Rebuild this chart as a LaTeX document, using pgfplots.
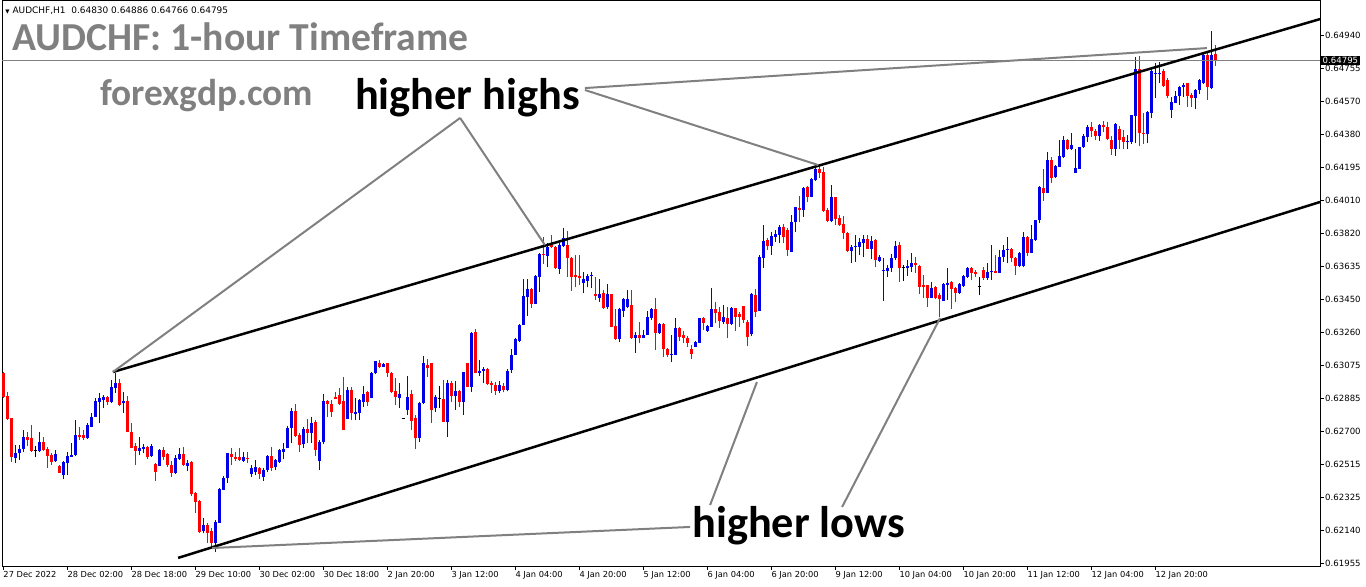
\documentclass[border=0pt]{standalone}
\usepackage{fontspec}
\setmainfont{DejaVu Sans}
\newfontfamily\calfont{Carlito}
\usepackage{pgfplots}
\usepackage{pgfplotstable}
\pgfplotsset{compat=1.18}
\definecolor{upc}{RGB}{0,0,230}
\definecolor{dnc}{RGB}{255,0,0}
\definecolor{annot}{RGB}{128,128,128}

% hourly AUDCHF candles, x = bar number (bar 0 = 27 Dec 2022 10:00)
\pgfplotstableread{
i o h l c
3 0.62551 0.62623 0.62523 0.62575
4 0.62575 0.62623 0.62538 0.62600
5 0.62598 0.62707 0.62585 0.62666
9 0.62590 0.62694 0.62585 0.62640
13 0.62534 0.62594 0.62528 0.62572
15 0.62453 0.62532 0.62428 0.62526
16 0.62523 0.62585 0.62453 0.62560
17 0.62557 0.62636 0.62557 0.62568
18 0.62566 0.62764 0.62560 0.62679
21 0.62660 0.62745 0.62655 0.62736
22 0.62726 0.62801 0.62722 0.62779
23 0.62783 0.62886 0.62779 0.62871
24 0.62867 0.62918 0.62745 0.62890
25 0.62877 0.62905 0.62830 0.62894
27 0.62866 0.62990 0.62862 0.62952
28 0.62947 0.63028 0.62918 0.62975
30 0.62858 0.62924 0.62805 0.62871
34 0.62590 0.62666 0.62566 0.62607
35 0.62602 0.62628 0.62575 0.62613
37 0.62560 0.62628 0.62557 0.62617
39 0.62504 0.62598 0.62504 0.62594
43 0.62466 0.62566 0.62459 0.62547
44 0.62543 0.62604 0.62538 0.62572
46 0.62504 0.62538 0.62477 0.62523
50 0.62136 0.62208 0.62123 0.62170
53 0.62071 0.62199 0.62016 0.62189
54 0.62184 0.62378 0.62184 0.62372
55 0.62368 0.62447 0.62368 0.62438
56 0.62438 0.62579 0.62410 0.62575
60 0.62534 0.62585 0.62525 0.62553
62 0.62460 0.62510 0.62440 0.62495
63 0.62470 0.62537 0.62450 0.62500
65 0.62440 0.62490 0.62420 0.62480
66 0.62480 0.62565 0.62470 0.62560
68 0.62496 0.62545 0.62480 0.62537
69 0.62528 0.62598 0.62522 0.62594
70 0.62585 0.62632 0.62541 0.62601
71 0.62603 0.62730 0.62603 0.62720
72 0.62717 0.62830 0.62635 0.62816
75 0.62626 0.62726 0.62607 0.62713
77 0.62692 0.62779 0.62636 0.62749
79 0.62530 0.62650 0.62480 0.62640
80 0.62640 0.62911 0.62630 0.62871
86 0.62769 0.62952 0.62769 0.62935
88 0.62799 0.62886 0.62764 0.62811
89 0.62805 0.62882 0.62764 0.62877
90 0.62867 0.62958 0.62839 0.62911
92 0.62890 0.63037 0.62886 0.63031
93 0.63027 0.63097 0.63022 0.63097
95 0.63065 0.63088 0.63061 0.63080
99 0.62890 0.62975 0.62833 0.62911
101 0.62820 0.63012 0.62792 0.62896
104 0.62660 0.62867 0.62641 0.62862
105 0.62858 0.63125 0.62854 0.63084
108 0.62830 0.62905 0.62811 0.62892
111 0.62754 0.62990 0.62669 0.62975
113 0.62901 0.62984 0.62820 0.62928
115 0.62867 0.63037 0.62792 0.63037
117 0.62952 0.63263 0.62924 0.63257
119 0.63031 0.63103 0.63012 0.63040
120 0.63042 0.63065 0.62971 0.63052
124 0.62930 0.62985 0.62915 0.62960
126 0.62935 0.63050 0.62925 0.63040
127 0.63047 0.63164 0.63030 0.63132
128 0.63132 0.63226 0.63132 0.63222
129 0.63212 0.63307 0.63207 0.63301
130 0.63301 0.63561 0.63301 0.63465
131 0.63461 0.63559 0.63352 0.63504
133 0.63420 0.63584 0.63420 0.63578
134 0.63574 0.63706 0.63489 0.63702
136 0.63693 0.63763 0.63627 0.63744
139 0.63618 0.63766 0.63589 0.63753
140 0.63748 0.63847 0.63744 0.63791
145 0.63537 0.63602 0.63480 0.63561
146 0.63552 0.63589 0.63514 0.63580
147 0.63580 0.63602 0.63508 0.63584
149 0.63452 0.63561 0.63433 0.63476
151 0.63401 0.63533 0.63390 0.63476
154 0.63220 0.63395 0.63207 0.63390
155 0.63382 0.63452 0.63348 0.63446
156 0.63405 0.63499 0.63395 0.63446
158 0.63229 0.63263 0.63141 0.63244
160 0.63226 0.63273 0.63226 0.63244
161 0.63244 0.63382 0.63244 0.63344
162 0.63339 0.63395 0.63329 0.63390
164 0.63254 0.63310 0.63250 0.63307
167 0.63135 0.63244 0.63090 0.63137
168 0.63131 0.63339 0.63131 0.63282
173 0.63178 0.63212 0.63175 0.63203
174 0.63201 0.63343 0.63197 0.63343
176 0.63269 0.63301 0.63263 0.63295
177 0.63292 0.63508 0.63288 0.63390
180 0.63320 0.63414 0.63307 0.63344
182 0.63307 0.63405 0.63301 0.63395
187 0.63250 0.63480 0.63240 0.63476
189 0.63382 0.63697 0.63382 0.63687
190 0.63682 0.63866 0.63621 0.63777
192 0.63747 0.63828 0.63697 0.63804
193 0.63800 0.63838 0.63772 0.63815
194 0.63810 0.63866 0.63763 0.63853
197 0.63715 0.63923 0.63715 0.63885
198 0.63885 0.63970 0.63828 0.63966
200 0.63951 0.64083 0.63913 0.64077
202 0.64026 0.64130 0.64022 0.64126
203 0.64120 0.64186 0.64117 0.64181
207 0.63889 0.64092 0.63881 0.64026
212 0.63721 0.63753 0.63653 0.63744
213 0.63743 0.63810 0.63659 0.63750
214 0.63744 0.63791 0.63697 0.63772
215 0.63766 0.63810 0.63684 0.63787
217 0.63729 0.63804 0.63672 0.63777
219 0.63665 0.63697 0.63659 0.63687
220 0.63608 0.63678 0.63438 0.63612
221 0.63608 0.63640 0.63574 0.63625
222 0.63625 0.63700 0.63602 0.63681
223 0.63678 0.63777 0.63668 0.63747
226 0.63621 0.63668 0.63578 0.63634
227 0.63631 0.63706 0.63602 0.63650
232 0.63456 0.63546 0.63452 0.63512
235 0.63438 0.63540 0.63438 0.63533
236 0.63527 0.63621 0.63442 0.63540
239 0.63484 0.63536 0.63476 0.63531
240 0.63521 0.63584 0.63518 0.63578
241 0.63574 0.63631 0.63565 0.63625
246 0.63568 0.63649 0.63555 0.63602
247 0.63598 0.63753 0.63555 0.63606
249 0.63597 0.63725 0.63593 0.63687
250 0.63687 0.63753 0.63659 0.63725
251 0.63725 0.63796 0.63649 0.63732
254 0.63634 0.63715 0.63627 0.63710
255 0.63634 0.63828 0.63630 0.63800
257 0.63710 0.63866 0.63706 0.63785
258 0.63781 0.63894 0.63777 0.63894
259 0.63894 0.64086 0.63875 0.64083
261 0.64049 0.64280 0.64045 0.64233
263 0.64135 0.64205 0.64130 0.64199
264 0.64196 0.64346 0.64192 0.64256
265 0.64248 0.64369 0.64243 0.64346
267 0.64294 0.64384 0.64290 0.64318
268 0.64162 0.64294 0.64162 0.64186
269 0.64184 0.64309 0.64184 0.64305
270 0.64305 0.64380 0.64299 0.64369
271 0.64365 0.64431 0.64337 0.64418
274 0.64369 0.64437 0.64342 0.64431
278 0.64295 0.64444 0.64256 0.64437
281 0.64337 0.64375 0.64294 0.64342
282 0.64337 0.64488 0.64324 0.64488
283 0.64484 0.64814 0.64327 0.64746
286 0.64380 0.64512 0.64327 0.64506
287 0.64501 0.64751 0.64469 0.64736
288 0.64719 0.64780 0.64582 0.64727
289 0.64719 0.64789 0.64667 0.64727
292 0.64516 0.64591 0.64469 0.64563
293 0.64557 0.64625 0.64554 0.64595
294 0.64595 0.64652 0.64544 0.64644
295 0.64644 0.64670 0.64591 0.64657
298 0.64582 0.64633 0.64520 0.64629
299 0.64629 0.64689 0.64606 0.64685
300 0.64667 0.64837 0.64663 0.64827
302 0.64639 0.64963 0.64633 0.64827
}\upbars

\pgfplotstableread{
i o h l c
0 0.63028 0.63035 0.62890 0.62896
1 0.62900 0.62924 0.62764 0.62768
2 0.62773 0.62773 0.62528 0.62553
6 0.62670 0.62698 0.62617 0.62651
7 0.62660 0.62736 0.62585 0.62590
10 0.62640 0.62670 0.62589 0.62594
11 0.62598 0.62613 0.62491 0.62560
12 0.62566 0.62575 0.62510 0.62528
14 0.62504 0.62510 0.62462 0.62466
19 0.62677 0.62722 0.62651 0.62670
20 0.62677 0.62707 0.62651 0.62660
26 0.62894 0.62900 0.62849 0.62866
29 0.62975 0.62994 0.62843 0.62849
31 0.62871 0.62900 0.62694 0.62698
32 0.62698 0.62745 0.62604 0.62607
33 0.62617 0.62632 0.62510 0.62589
36 0.62613 0.62617 0.62543 0.62553
38 0.62515 0.62519 0.62421 0.62472
40 0.62594 0.62613 0.62538 0.62557
41 0.62570 0.62575 0.62500 0.62510
42 0.62510 0.62532 0.62444 0.62466
45 0.62572 0.62609 0.62504 0.62510
47 0.62528 0.62534 0.62334 0.62346
48 0.62349 0.62359 0.62236 0.62302
49 0.62308 0.62312 0.62127 0.62133
51 0.62168 0.62180 0.62071 0.62127
52 0.62136 0.62152 0.62048 0.62071
57 0.62572 0.62604 0.62510 0.62553
58 0.62557 0.62585 0.62534 0.62545
59 0.62553 0.62604 0.62534 0.62538
61 0.62549 0.62585 0.62523 0.62545
64 0.62495 0.62500 0.62430 0.62460
67 0.62560 0.62610 0.62475 0.62490
73 0.62814 0.62854 0.62669 0.62673
74 0.62679 0.62688 0.62581 0.62622
76 0.62713 0.62767 0.62636 0.62692
78 0.62750 0.62764 0.62562 0.62594
81 0.62871 0.62877 0.62782 0.62852
82 0.62854 0.62877 0.62782 0.62811
83 0.62894 0.62924 0.62882 0.62882
84 0.62905 0.62943 0.62848 0.62854
85 0.62871 0.63008 0.62707 0.62707
87 0.62935 0.62948 0.62764 0.62805
91 0.62924 0.62929 0.62845 0.62867
94 0.63088 0.63103 0.63059 0.63065
96 0.63084 0.63088 0.63008 0.63027
97 0.63027 0.63037 0.62918 0.62924
98 0.62928 0.62999 0.62848 0.62896
102 0.62911 0.62933 0.62707 0.62760
103 0.62775 0.62792 0.62598 0.62660
106 0.63074 0.63106 0.63008 0.63059
107 0.63084 0.63088 0.62748 0.62820
110 0.62882 0.62990 0.62754 0.62754
112 0.62975 0.62984 0.62867 0.62901
114 0.62929 0.62933 0.62839 0.62867
116 0.63084 0.63088 0.62948 0.62952
118 0.63259 0.63276 0.63027 0.63031
121 0.63050 0.63056 0.62961 0.62967
122 0.62975 0.62986 0.62918 0.62963
123 0.62963 0.62980 0.62905 0.62930
125 0.62955 0.62975 0.62920 0.62935
132 0.63504 0.63512 0.63395 0.63418
135 0.63702 0.63800 0.63646 0.63697
137 0.63753 0.63808 0.63734 0.63740
138 0.63744 0.63748 0.63618 0.63621
141 0.63753 0.63832 0.63574 0.63678
142 0.63678 0.63687 0.63495 0.63574
143 0.63584 0.63697 0.63514 0.63574
144 0.63578 0.63697 0.63527 0.63565
148 0.63476 0.63574 0.63442 0.63467
150 0.63480 0.63499 0.63391 0.63399
152 0.63476 0.63476 0.63288 0.63292
153 0.63295 0.63390 0.63216 0.63220
157 0.63414 0.63499 0.63222 0.63226
159 0.63244 0.63320 0.63197 0.63229
163 0.63390 0.63456 0.63160 0.63258
165 0.63307 0.63310 0.63122 0.63163
166 0.63163 0.63169 0.63122 0.63131
169 0.63282 0.63292 0.63212 0.63235
170 0.63245 0.63269 0.63197 0.63226
171 0.63229 0.63239 0.63175 0.63197
172 0.63163 0.63188 0.63107 0.63137
175 0.63343 0.63348 0.63273 0.63314
178 0.63390 0.63433 0.63310 0.63371
179 0.63376 0.63405 0.63282 0.63326
181 0.63339 0.63405 0.63226 0.63305
183 0.63395 0.63399 0.63269 0.63348
184 0.63363 0.63376 0.63288 0.63348
185 0.63408 0.63410 0.63310 0.63329
186 0.63320 0.63330 0.63180 0.63230
188 0.63471 0.63503 0.63348 0.63376
191 0.63781 0.63791 0.63725 0.63747
195 0.63853 0.63872 0.63766 0.63796
196 0.63838 0.63847 0.63691 0.63725
199 0.63960 0.64030 0.63885 0.63951
201 0.64083 0.64087 0.63994 0.64026
204 0.64181 0.64205 0.64130 0.64162
205 0.64168 0.64196 0.63941 0.63945
206 0.63951 0.63960 0.63881 0.63889
208 0.64026 0.64026 0.63866 0.63898
209 0.63904 0.63923 0.63860 0.63866
210 0.63872 0.63917 0.63785 0.63823
211 0.63823 0.63828 0.63715 0.63721
216 0.63787 0.63810 0.63729 0.63731
218 0.63781 0.63785 0.63627 0.63668
224 0.63753 0.63772 0.63546 0.63621
228 0.63653 0.63684 0.63597 0.63640
229 0.63634 0.63640 0.63476 0.63518
230 0.63527 0.63584 0.63452 0.63518
231 0.63527 0.63527 0.63405 0.63452
233 0.63518 0.63521 0.63446 0.63452
234 0.63470 0.63480 0.63348 0.63446
237 0.63546 0.63550 0.63390 0.63503
238 0.63508 0.63518 0.63433 0.63484
242 0.63625 0.63627 0.63555 0.63597
243 0.63602 0.63612 0.63574 0.63589
245 0.63612 0.63631 0.63555 0.63565
248 0.63608 0.63696 0.63593 0.63597
252 0.63728 0.63734 0.63659 0.63678
253 0.63678 0.63683 0.63583 0.63634
256 0.63800 0.63804 0.63691 0.63710
260 0.64073 0.64181 0.64002 0.64045
262 0.64233 0.64248 0.64105 0.64130
266 0.64346 0.64350 0.64290 0.64294
272 0.64418 0.64450 0.64365 0.64399
273 0.64399 0.64407 0.64346 0.64369
275 0.64431 0.64456 0.64393 0.64418
276 0.64418 0.64450 0.64346 0.64350
277 0.64346 0.64369 0.64262 0.64295
279 0.64407 0.64425 0.64294 0.64346
280 0.64361 0.64403 0.64294 0.64337
284 0.64746 0.64822 0.64312 0.64384
285 0.64388 0.64501 0.64324 0.64380
290 0.64736 0.64746 0.64648 0.64652
291 0.64685 0.64695 0.64582 0.64595
296 0.64667 0.64667 0.64535 0.64595
297 0.64601 0.64610 0.64535 0.64582
301 0.64827 0.64837 0.64573 0.64648
303 0.64830 0.64886 0.64766 0.64795
}\downbars

\pgfplotstableread{
i o h l c
8 0.62594 0.62617 0.62553 0.62594
100 0.62773 0.62777 0.62769 0.62773
109 0.62886 0.62956 0.62833 0.62886
225 0.63627 0.63640 0.63551 0.63627
244 0.63521 0.63574 0.63471 0.63521
}\dojibars

\begin{document}
\begin{tikzpicture}
\useasboundingbox (0,0) rectangle (1366bp,587bp);
\begin{axis}[
  at={(2bp,21bp)}, anchor=south west,
  scale only axis, width=1318bp, height=565bp,
  xmin=-0.325, xmax=329.175,
  ymin=0.619383, ymax=0.651322,
  clip=false,
  axis line style={line width=1bp},
  tick align=outside, major tick length=4bp,
  tick style={black, line width=0.8bp},
  xtick pos=bottom, ytick pos=right, yticklabel pos=right,
  xtick={0,16,...,288},
  xticklabels={27 Dec 2022,28 Dec 02:00,28 Dec 18:00,29 Dec 10:00,30 Dec 02:00,30 Dec 18:00,2 Jan 20:00,3 Jan 12:00,4 Jan 04:00,4 Jan 20:00,5 Jan 12:00,6 Jan 04:00,6 Jan 20:00,9 Jan 12:00,10 Jan 04:00,10 Jan 20:00,11 Jan 12:00,12 Jan 04:00,12 Jan 20:00},
  ytick={0.64940,0.647534,0.645669,0.643803,0.641938,0.640072,0.638206,0.636341,0.634475,0.632610,0.630744,0.628878,0.627013,0.625147,0.623282,0.621416,0.619550},
  yticklabels={0.64940,0.64755,0.64570,0.64380,0.64195,0.64010,0.63820,0.63635,0.63450,0.63260,0.63075,0.62885,0.62700,0.62515,0.62325,0.62140,0.61955},
  xticklabel style={font=\fontsize{8.3}{9}\selectfont, anchor=north west, inner sep=0pt, yshift=-1bp},
  yticklabel style={font=\fontsize{8.6}{9}\selectfont, anchor=west, inner sep=0pt, xshift=1bp},
]
% wicks
\addplot[draw=none, mark=none, forget plot, error bars/.cd, y dir=plus, y explicit, error mark=none,
  error bar style={draw=upc, solid, line width=1bp}]
  table[x=i, y=l, y error plus expr=\thisrow{h}-\thisrow{l}] {\upbars};
\addplot[draw=none, mark=none, forget plot, error bars/.cd, y dir=plus, y explicit, error mark=none,
  error bar style={draw=dnc, solid, line width=1bp}]
  table[x=i, y=l, y error plus expr=\thisrow{h}-\thisrow{l}] {\downbars};
\addplot[draw=none, mark=none, forget plot, error bars/.cd, y dir=plus, y explicit, error mark=none,
  error bar style={draw=black, solid, line width=1bp}]
  table[x=i, y=l, y error plus expr=\thisrow{h}-\thisrow{l}] {\dojibars};
% bodies
\addplot[draw=none, mark=none, forget plot, error bars/.cd, y dir=plus, y explicit, error mark=none,
  error bar style={draw=upc, solid, line width=3bp}]
  table[x=i, y=o, y error plus expr=\thisrow{c}-\thisrow{o}] {\upbars};
\addplot[draw=none, mark=none, forget plot, error bars/.cd, y dir=plus, y explicit, error mark=none,
  error bar style={draw=dnc, solid, line width=3bp}]
  table[x=i, y=c, y error plus expr=\thisrow{o}-\thisrow{c}] {\downbars};
\addplot[black, only marks, mark=-, mark size=1.5bp, mark options={line width=1bp}]
  table[x=i, y=o] {\dojibars};

% current price line
\addplot[annot, line width=0.7bp, no marks] coordinates {(-0.325,0.64795) (329.175,0.64795)};

% channel
\addplot[black, line width=2.5bp, no marks] coordinates {(27.4,0.63035) (329.175,0.65030)};
\addplot[black, line width=2.5bp, no marks] coordinates {(43.7,0.61984) (329.175,0.63996)};

% annotation pointers
\addplot[annot, line width=2bp, no marks] coordinates {(114.2,0.64471) (27.4,0.63035)};
\addplot[annot, line width=2bp, no marks] coordinates {(114.2,0.64471) (135.4,0.63753)};
\addplot[annot, line width=2bp, no marks] coordinates {(145.4,0.64629) (203.7,0.64205)};
\addplot[annot, line width=2bp, no marks] coordinates {(145.4,0.64640) (300.9,0.64866)};
\addplot[annot, line width=2bp, no marks] coordinates {(171.7,0.62159) (52.2,0.62040)};
\addplot[annot, line width=2bp, no marks] coordinates {(176.7,0.62283) (188.4,0.62978)};
\addplot[annot, line width=2bp, no marks] coordinates {(209.7,0.62272) (234.2,0.63340)};

% texts
\node[anchor=base west, inner sep=0pt, font=\fontsize{9}{10}\selectfont] at (axis cs:0.5,0.65064)
  {{\fontsize{5.5}{6}\selectfont ▼}\ AUDCHF,H1\ \ 0.64830 0.64886 0.64766 0.64795};
\node[anchor=base west, inner sep=0pt, text=annot, font=\calfont\bfseries\fontsize{39.8}{40}\selectfont]
  at (axis cs:2.2,0.64855) {AUDCHF: 1-hour Timeframe};
\node[anchor=base west, inner sep=0pt, text=annot, font=\calfont\bfseries\fontsize{37.5}{38}\selectfont]
  at (axis cs:24.2,0.64539) {forexgdp.com};
\node[anchor=base west, inner sep=0pt, font=\calfont\bfseries\fontsize{44.5}{46}\selectfont]
  at (axis cs:87.9,0.64516) {higher highs};
\node[anchor=base west, inner sep=0pt, font=\calfont\bfseries\fontsize{44.5}{46}\selectfont]
  at (axis cs:172.2,0.62102) {higher lows};
\node[anchor=west, fill=black, text=white, inner sep=1.5bp, xshift=1bp, font=\fontsize{8.6}{9}\selectfont]
  at (axis cs:329.175,0.64795) {0.64795};
\end{axis}
\end{tikzpicture}
\end{document}
